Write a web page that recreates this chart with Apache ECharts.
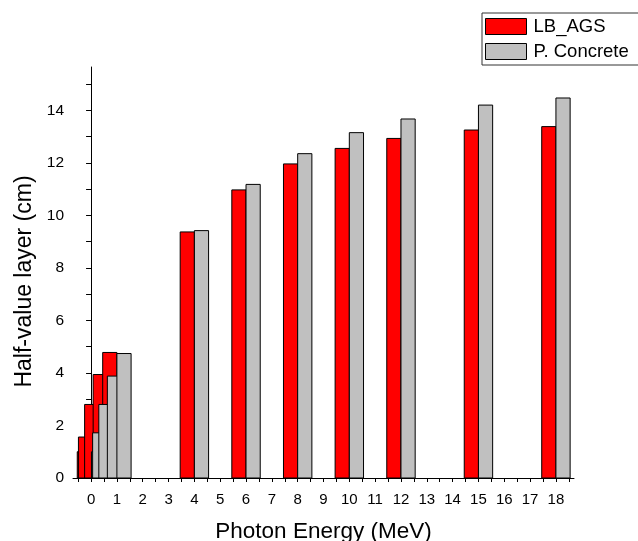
<!DOCTYPE html>
<html>
<head>
<meta charset="utf-8">
<script src="https://cdn.jsdelivr.net/npm/echarts@6.0.0/dist/echarts.min.js"></script>
<style>
    html, body { margin: 0; padding: 0; background: #fff; }
    #HvlChart { width: 638px; height: 541px; }
</style>
</head>
<body>
<div id="HvlChart"></div>
<script>
// photon energies (MeV) and half-value layers (cm)
var energies = [0.015, 0.06, 0.3, 0.63, 1, 4, 6, 8, 10, 12, 15, 18];
var lbAgs = [1.0, 1.56, 2.8, 3.94, 4.78, 9.37, 10.97, 11.96, 12.55, 12.93, 13.25, 13.38];
var pConcrete = [1.0, 1.72, 2.8, 3.88, 4.74, 9.42, 11.18, 12.35, 13.15, 13.67, 14.2, 14.47];

// axis ticks / labels
var xLabelValues = [0, 1, 2, 3, 4, 5, 6, 7, 8, 9, 10, 11, 12, 13, 14, 15, 16, 17, 18];
var xTickValues = [-0.5, 0, 0.5, 1, 1.5, 2, 2.5, 3, 3.5, 4, 4.5, 5, 5.5, 6, 6.5, 7, 7.5, 8, 8.5, 9, 9.5,
    10, 10.5, 11, 11.5, 12, 12.5, 13, 13.5, 14, 14.5, 15, 15.5, 16, 16.5, 17, 17.5, 18, 18.5];
var yLabelValues = [0, 2, 4, 6, 8, 10, 12, 14];
var yTickValues = [0, 1, 2, 3, 4, 5, 6, 7, 8, 9, 10, 11, 12, 13, 14, 15];

var barW = 0.55;
var fontName = "'Liberation Sans', Arial, sans-serif";

function pairData(vals) {
    var out = [];
    for (var i = 0; i < energies.length; i++) out.push([energies[i], vals[i]]);
    return out;
}

// red bar sits left of the energy, grey bar right of it
function barRenderer(side, fill) {
    return function (params, api) {
        var e = api.value(0);
        var v = api.value(1);
        var x0 = side < 0 ? e - barW : e;
        var x1 = side < 0 ? e : e + barW;
        var p0 = api.coord([x0, v]);
        var p1 = api.coord([x1, 0]);
        return {
            type: 'rect',
            shape: { x: p0[0], y: p0[1], width: p1[0] - p0[0], height: p1[1] - p0[1] },
            style: { fill: fill, stroke: '#000', lineWidth: 1 }
        };
    };
}

var axisCommon = {
    axisLine: { show: true, lineStyle: { color: '#000', width: 1 } },
    splitLine: { show: false }
};

var myChart = echarts.init(document.getElementById('HvlChart'));
myChart.setOption({
    animation: false,
    backgroundColor: '#fff',
    grid: { left: 73, right: 64, top: 67, bottom: 63, containLabel: false, outerBoundsMode: 'none' },
    legend: {
        left: 482,
        top: 13,
        orient: 'vertical',
        itemWidth: 41,
        itemHeight: 16,
        itemGap: 6,
        padding: [4, 14, 4, 3],
        borderColor: '#333',
        borderWidth: 1,
        textStyle: { fontFamily: fontName, fontSize: 18.5, color: '#000', padding: [0, 0, 0, 2] },
        data: [
            { name: 'LB_AGS', icon: 'rect', itemStyle: { color: '#ff0000', borderColor: '#000', borderWidth: 1 } },
            { name: 'P. Concrete', icon: 'rect', itemStyle: { color: '#c0c0c0', borderColor: '#000', borderWidth: 1 } }
        ]
    },
    xAxis: Object.assign({}, axisCommon, {
        type: 'value',
        min: -0.7,
        max: 18.7,
        name: 'Photon Energy (MeV)',
        nameLocation: 'middle',
        nameGap: 42,
        nameTextStyle: { fontFamily: fontName, fontSize: 22.5, color: '#000' },
        axisTick: { show: true, inside: false, length: 4, customValues: xTickValues, lineStyle: { color: '#000' } },
        axisLabel: { customValues: xLabelValues, margin: 14, fontFamily: fontName, fontSize: 15, color: '#000' }
    }),
    yAxis: Object.assign({}, axisCommon, {
        type: 'value',
        min: 0,
        max: 15.65,
        name: 'Half-value layer (cm)',
        nameLocation: 'middle',
        nameGap: 37,
        nameTextStyle: { fontFamily: fontName, fontSize: 23, color: '#000', padding: [0, 18, 0, 0] },
        axisTick: { show: true, inside: false, length: 5, customValues: yTickValues, lineStyle: { color: '#000' } },
        axisLabel: { customValues: yLabelValues, margin: 9, fontFamily: fontName, fontSize: 15.5, color: '#000' }
    }),
    series: [
        {
            name: 'LB_AGS',
            type: 'custom',
            renderItem: barRenderer(-1, '#ff0000'),
            itemStyle: { color: '#ff0000', borderColor: '#000', borderWidth: 1 },
            encode: { x: 0, y: 1 },
            data: pairData(lbAgs)
        },
        {
            name: 'P. Concrete',
            type: 'custom',
            renderItem: barRenderer(1, '#c0c0c0'),
            itemStyle: { color: '#c0c0c0', borderColor: '#000', borderWidth: 1 },
            encode: { x: 0, y: 1 },
            data: pairData(pConcrete)
        }
    ]
});
</script>
</body>
</html>
